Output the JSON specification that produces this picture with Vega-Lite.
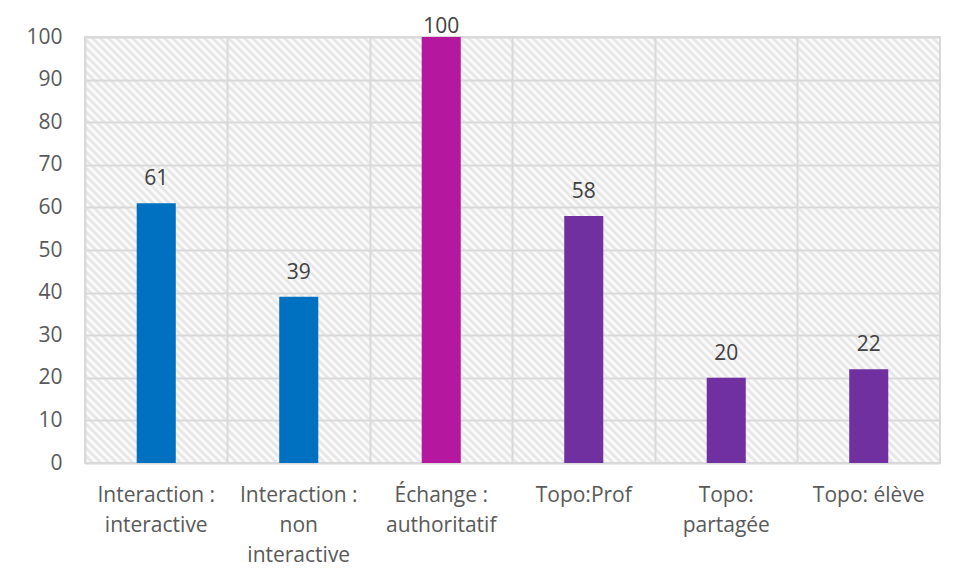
{
"$schema": "https://vega.github.io/schema/vega-lite/v6.json",
"width": 855, "height": 426,
"autosize": "none",
"padding": {"left": 85, "top": 37, "right": 18, "bottom": 115},
"background": "white",
"config": {
"view": {"stroke": "#d9d9d9", "strokeWidth": 2,
"fill": {"gradient": "linear", "x1": 0, "y1": 1, "x2": 1.5, "y2": 0.2527, "stops": [
{"offset":0,"color":"#e2e2e2"},{"offset":0.0025,"color":"#fff"},{"offset":0.005,"color":"#e2e2e2"},{"offset":0.0075,"color":"#fff"},
{"offset":0.01,"color":"#e2e2e2"},{"offset":0.0125,"color":"#fff"},{"offset":0.015,"color":"#e2e2e2"},{"offset":0.0175,"color":"#fff"},
{"offset":0.02,"color":"#e2e2e2"},{"offset":0.0225,"color":"#fff"},{"offset":0.025,"color":"#e2e2e2"},{"offset":0.0275,"color":"#fff"},
{"offset":0.03,"color":"#e2e2e2"},{"offset":0.0325,"color":"#fff"},{"offset":0.035,"color":"#e2e2e2"},{"offset":0.0375,"color":"#fff"},
{"offset":0.04,"color":"#e2e2e2"},{"offset":0.0425,"color":"#fff"},{"offset":0.045,"color":"#e2e2e2"},{"offset":0.0475,"color":"#fff"},
{"offset":0.05,"color":"#e2e2e2"},{"offset":0.0525,"color":"#fff"},{"offset":0.055,"color":"#e2e2e2"},{"offset":0.0575,"color":"#fff"},
{"offset":0.06,"color":"#e2e2e2"},{"offset":0.0625,"color":"#fff"},{"offset":0.065,"color":"#e2e2e2"},{"offset":0.0675,"color":"#fff"},
{"offset":0.07,"color":"#e2e2e2"},{"offset":0.0725,"color":"#fff"},{"offset":0.075,"color":"#e2e2e2"},{"offset":0.0775,"color":"#fff"},
{"offset":0.08,"color":"#e2e2e2"},{"offset":0.0825,"color":"#fff"},{"offset":0.085,"color":"#e2e2e2"},{"offset":0.0875,"color":"#fff"},
{"offset":0.09,"color":"#e2e2e2"},{"offset":0.0925,"color":"#fff"},{"offset":0.095,"color":"#e2e2e2"},{"offset":0.0975,"color":"#fff"},
{"offset":0.10,"color":"#e2e2e2"},{"offset":0.1025,"color":"#fff"},{"offset":0.105,"color":"#e2e2e2"},{"offset":0.1075,"color":"#fff"},
{"offset":0.11,"color":"#e2e2e2"},{"offset":0.1125,"color":"#fff"},{"offset":0.115,"color":"#e2e2e2"},{"offset":0.1175,"color":"#fff"},
{"offset":0.12,"color":"#e2e2e2"},{"offset":0.1225,"color":"#fff"},{"offset":0.125,"color":"#e2e2e2"},{"offset":0.1275,"color":"#fff"},
{"offset":0.13,"color":"#e2e2e2"},{"offset":0.1325,"color":"#fff"},{"offset":0.135,"color":"#e2e2e2"},{"offset":0.1375,"color":"#fff"},
{"offset":0.14,"color":"#e2e2e2"},{"offset":0.1425,"color":"#fff"},{"offset":0.145,"color":"#e2e2e2"},{"offset":0.1475,"color":"#fff"},
{"offset":0.15,"color":"#e2e2e2"},{"offset":0.1525,"color":"#fff"},{"offset":0.155,"color":"#e2e2e2"},{"offset":0.1575,"color":"#fff"},
{"offset":0.16,"color":"#e2e2e2"},{"offset":0.1625,"color":"#fff"},{"offset":0.165,"color":"#e2e2e2"},{"offset":0.1675,"color":"#fff"},
{"offset":0.17,"color":"#e2e2e2"},{"offset":0.1725,"color":"#fff"},{"offset":0.175,"color":"#e2e2e2"},{"offset":0.1775,"color":"#fff"},
{"offset":0.18,"color":"#e2e2e2"},{"offset":0.1825,"color":"#fff"},{"offset":0.185,"color":"#e2e2e2"},{"offset":0.1875,"color":"#fff"},
{"offset":0.19,"color":"#e2e2e2"},{"offset":0.1925,"color":"#fff"},{"offset":0.195,"color":"#e2e2e2"},{"offset":0.1975,"color":"#fff"},
{"offset":0.20,"color":"#e2e2e2"},{"offset":0.2025,"color":"#fff"},{"offset":0.205,"color":"#e2e2e2"},{"offset":0.2075,"color":"#fff"},
{"offset":0.21,"color":"#e2e2e2"},{"offset":0.2125,"color":"#fff"},{"offset":0.215,"color":"#e2e2e2"},{"offset":0.2175,"color":"#fff"},
{"offset":0.22,"color":"#e2e2e2"},{"offset":0.2225,"color":"#fff"},{"offset":0.225,"color":"#e2e2e2"},{"offset":0.2275,"color":"#fff"},
{"offset":0.23,"color":"#e2e2e2"},{"offset":0.2325,"color":"#fff"},{"offset":0.235,"color":"#e2e2e2"},{"offset":0.2375,"color":"#fff"},
{"offset":0.24,"color":"#e2e2e2"},{"offset":0.2425,"color":"#fff"},{"offset":0.245,"color":"#e2e2e2"},{"offset":0.2475,"color":"#fff"},
{"offset":0.25,"color":"#e2e2e2"},{"offset":0.2525,"color":"#fff"},{"offset":0.255,"color":"#e2e2e2"},{"offset":0.2575,"color":"#fff"},
{"offset":0.26,"color":"#e2e2e2"},{"offset":0.2625,"color":"#fff"},{"offset":0.265,"color":"#e2e2e2"},{"offset":0.2675,"color":"#fff"},
{"offset":0.27,"color":"#e2e2e2"},{"offset":0.2725,"color":"#fff"},{"offset":0.275,"color":"#e2e2e2"},{"offset":0.2775,"color":"#fff"},
{"offset":0.28,"color":"#e2e2e2"},{"offset":0.2825,"color":"#fff"},{"offset":0.285,"color":"#e2e2e2"},{"offset":0.2875,"color":"#fff"},
{"offset":0.29,"color":"#e2e2e2"},{"offset":0.2925,"color":"#fff"},{"offset":0.295,"color":"#e2e2e2"},{"offset":0.2975,"color":"#fff"},
{"offset":0.30,"color":"#e2e2e2"},{"offset":0.3025,"color":"#fff"},{"offset":0.305,"color":"#e2e2e2"},{"offset":0.3075,"color":"#fff"},
{"offset":0.31,"color":"#e2e2e2"},{"offset":0.3125,"color":"#fff"},{"offset":0.315,"color":"#e2e2e2"},{"offset":0.3175,"color":"#fff"},
{"offset":0.32,"color":"#e2e2e2"},{"offset":0.3225,"color":"#fff"},{"offset":0.325,"color":"#e2e2e2"},{"offset":0.3275,"color":"#fff"},
{"offset":0.33,"color":"#e2e2e2"},{"offset":0.3325,"color":"#fff"},{"offset":0.335,"color":"#e2e2e2"},{"offset":0.3375,"color":"#fff"},
{"offset":0.34,"color":"#e2e2e2"},{"offset":0.3425,"color":"#fff"},{"offset":0.345,"color":"#e2e2e2"},{"offset":0.3475,"color":"#fff"},
{"offset":0.35,"color":"#e2e2e2"},{"offset":0.3525,"color":"#fff"},{"offset":0.355,"color":"#e2e2e2"},{"offset":0.3575,"color":"#fff"},
{"offset":0.36,"color":"#e2e2e2"},{"offset":0.3625,"color":"#fff"},{"offset":0.365,"color":"#e2e2e2"},{"offset":0.3675,"color":"#fff"},
{"offset":0.37,"color":"#e2e2e2"},{"offset":0.3725,"color":"#fff"},{"offset":0.375,"color":"#e2e2e2"},{"offset":0.3775,"color":"#fff"},
{"offset":0.38,"color":"#e2e2e2"},{"offset":0.3825,"color":"#fff"},{"offset":0.385,"color":"#e2e2e2"},{"offset":0.3875,"color":"#fff"},
{"offset":0.39,"color":"#e2e2e2"},{"offset":0.3925,"color":"#fff"},{"offset":0.395,"color":"#e2e2e2"},{"offset":0.3975,"color":"#fff"},
{"offset":0.40,"color":"#e2e2e2"},{"offset":0.4025,"color":"#fff"},{"offset":0.405,"color":"#e2e2e2"},{"offset":0.4075,"color":"#fff"},
{"offset":0.41,"color":"#e2e2e2"},{"offset":0.4125,"color":"#fff"},{"offset":0.415,"color":"#e2e2e2"},{"offset":0.4175,"color":"#fff"},
{"offset":0.42,"color":"#e2e2e2"},{"offset":0.4225,"color":"#fff"},{"offset":0.425,"color":"#e2e2e2"},{"offset":0.4275,"color":"#fff"},
{"offset":0.43,"color":"#e2e2e2"},{"offset":0.4325,"color":"#fff"},{"offset":0.435,"color":"#e2e2e2"},{"offset":0.4375,"color":"#fff"},
{"offset":0.44,"color":"#e2e2e2"},{"offset":0.4425,"color":"#fff"},{"offset":0.445,"color":"#e2e2e2"},{"offset":0.4475,"color":"#fff"},
{"offset":0.45,"color":"#e2e2e2"},{"offset":0.4525,"color":"#fff"},{"offset":0.455,"color":"#e2e2e2"},{"offset":0.4575,"color":"#fff"},
{"offset":0.46,"color":"#e2e2e2"},{"offset":0.4625,"color":"#fff"},{"offset":0.465,"color":"#e2e2e2"},{"offset":0.4675,"color":"#fff"},
{"offset":0.47,"color":"#e2e2e2"},{"offset":0.4725,"color":"#fff"},{"offset":0.475,"color":"#e2e2e2"},{"offset":0.4775,"color":"#fff"},
{"offset":0.48,"color":"#e2e2e2"},{"offset":0.4825,"color":"#fff"},{"offset":0.485,"color":"#e2e2e2"},{"offset":0.4875,"color":"#fff"},
{"offset":0.49,"color":"#e2e2e2"},{"offset":0.4925,"color":"#fff"},{"offset":0.495,"color":"#e2e2e2"},{"offset":0.4975,"color":"#fff"},
{"offset":0.50,"color":"#e2e2e2"},{"offset":0.5025,"color":"#fff"},{"offset":0.505,"color":"#e2e2e2"},{"offset":0.5075,"color":"#fff"},
{"offset":0.51,"color":"#e2e2e2"},{"offset":0.5125,"color":"#fff"},{"offset":0.515,"color":"#e2e2e2"},{"offset":0.5175,"color":"#fff"},
{"offset":0.52,"color":"#e2e2e2"},{"offset":0.5225,"color":"#fff"},{"offset":0.525,"color":"#e2e2e2"},{"offset":0.5275,"color":"#fff"},
{"offset":0.53,"color":"#e2e2e2"},{"offset":0.5325,"color":"#fff"},{"offset":0.535,"color":"#e2e2e2"},{"offset":0.5375,"color":"#fff"},
{"offset":0.54,"color":"#e2e2e2"},{"offset":0.5425,"color":"#fff"},{"offset":0.545,"color":"#e2e2e2"},{"offset":0.5475,"color":"#fff"},
{"offset":0.55,"color":"#e2e2e2"},{"offset":0.5525,"color":"#fff"},{"offset":0.555,"color":"#e2e2e2"},{"offset":0.5575,"color":"#fff"},
{"offset":0.56,"color":"#e2e2e2"},{"offset":0.5625,"color":"#fff"},{"offset":0.565,"color":"#e2e2e2"},{"offset":0.5675,"color":"#fff"},
{"offset":0.57,"color":"#e2e2e2"},{"offset":0.5725,"color":"#fff"},{"offset":0.575,"color":"#e2e2e2"},{"offset":0.5775,"color":"#fff"},
{"offset":0.58,"color":"#e2e2e2"},{"offset":0.5825,"color":"#fff"},{"offset":0.585,"color":"#e2e2e2"},{"offset":0.5875,"color":"#fff"},
{"offset":0.59,"color":"#e2e2e2"},{"offset":0.5925,"color":"#fff"},{"offset":0.595,"color":"#e2e2e2"},{"offset":0.5975,"color":"#fff"},
{"offset":0.60,"color":"#e2e2e2"},{"offset":0.6025,"color":"#fff"},{"offset":0.605,"color":"#e2e2e2"},{"offset":0.6075,"color":"#fff"},
{"offset":0.61,"color":"#e2e2e2"},{"offset":0.6125,"color":"#fff"},{"offset":0.615,"color":"#e2e2e2"},{"offset":0.6175,"color":"#fff"},
{"offset":0.62,"color":"#e2e2e2"},{"offset":0.6225,"color":"#fff"},{"offset":0.625,"color":"#e2e2e2"},{"offset":0.6275,"color":"#fff"},
{"offset":0.63,"color":"#e2e2e2"},{"offset":0.6325,"color":"#fff"},{"offset":0.635,"color":"#e2e2e2"},{"offset":0.6375,"color":"#fff"},
{"offset":0.64,"color":"#e2e2e2"},{"offset":0.6425,"color":"#fff"},{"offset":0.645,"color":"#e2e2e2"},{"offset":0.6475,"color":"#fff"},
{"offset":0.65,"color":"#e2e2e2"},{"offset":0.6525,"color":"#fff"},{"offset":0.655,"color":"#e2e2e2"},{"offset":0.6575,"color":"#fff"},
{"offset":0.66,"color":"#e2e2e2"},{"offset":0.6625,"color":"#fff"},{"offset":0.665,"color":"#e2e2e2"},{"offset":0.6675,"color":"#fff"},
{"offset":0.67,"color":"#e2e2e2"},{"offset":0.6725,"color":"#fff"},{"offset":0.675,"color":"#e2e2e2"},{"offset":0.6775,"color":"#fff"},
{"offset":0.68,"color":"#e2e2e2"},{"offset":0.6825,"color":"#fff"},{"offset":0.685,"color":"#e2e2e2"},{"offset":0.6875,"color":"#fff"},
{"offset":0.69,"color":"#e2e2e2"},{"offset":0.6925,"color":"#fff"},{"offset":0.695,"color":"#e2e2e2"},{"offset":0.6975,"color":"#fff"},
{"offset":0.70,"color":"#e2e2e2"},{"offset":0.7025,"color":"#fff"},{"offset":0.705,"color":"#e2e2e2"},{"offset":0.7075,"color":"#fff"},
{"offset":0.71,"color":"#e2e2e2"},{"offset":0.7125,"color":"#fff"},{"offset":0.715,"color":"#e2e2e2"},{"offset":0.7175,"color":"#fff"},
{"offset":0.72,"color":"#e2e2e2"},{"offset":0.7225,"color":"#fff"},{"offset":0.725,"color":"#e2e2e2"},{"offset":0.7275,"color":"#fff"},
{"offset":0.73,"color":"#e2e2e2"},{"offset":0.7325,"color":"#fff"},{"offset":0.735,"color":"#e2e2e2"},{"offset":0.7375,"color":"#fff"},
{"offset":0.74,"color":"#e2e2e2"},{"offset":0.7425,"color":"#fff"},{"offset":0.745,"color":"#e2e2e2"},{"offset":0.7475,"color":"#fff"},
{"offset":0.75,"color":"#e2e2e2"},{"offset":0.7525,"color":"#fff"},{"offset":0.755,"color":"#e2e2e2"},{"offset":0.7575,"color":"#fff"},
{"offset":0.76,"color":"#e2e2e2"},{"offset":0.7625,"color":"#fff"},{"offset":0.765,"color":"#e2e2e2"},{"offset":0.7675,"color":"#fff"},
{"offset":0.77,"color":"#e2e2e2"},{"offset":0.7725,"color":"#fff"},{"offset":0.775,"color":"#e2e2e2"},{"offset":0.7775,"color":"#fff"},
{"offset":0.78,"color":"#e2e2e2"},{"offset":0.7825,"color":"#fff"},{"offset":0.785,"color":"#e2e2e2"},{"offset":0.7875,"color":"#fff"},
{"offset":0.79,"color":"#e2e2e2"},{"offset":0.7925,"color":"#fff"},{"offset":0.795,"color":"#e2e2e2"},{"offset":0.7975,"color":"#fff"},
{"offset":0.8,"color":"#e2e2e2"}
]}}
},
"data": {"values": [
{"cat": "Interaction : interactive", "value": 61, "grp": "Interaction"},
{"cat": "Interaction : non interactive", "value": 39, "grp": "Interaction"},
{"cat": "Échange : authoritatif", "value": 100, "grp": "Échange"},
{"cat": "Topo:Prof", "value": 58, "grp": "Topo"},
{"cat": "Topo: partagée", "value": 20, "grp": "Topo"},
{"cat": "Topo: élève", "value": 22, "grp": "Topo"}
]},
"encoding": {
"x": {"field": "cat", "type": "nominal", "sort": null,
 "scale": {"paddingInner": 0, "paddingOuter": 0},
 "axis": {"title": null, "labelAngle": 0, "bandPosition": 0, "grid": true, "gridColor": "#d9d9d9", "gridWidth": 2,
  "domain": false, "ticks": false, "tickSize": 0, "labelPadding": 21, "labelBaseline": "top", "labelLineHeight": 30,
  "labelFont": "Open Sans", "labelFontSize": 21, "labelColor": "#595959", "labelLimit": 0,
  "labelExpr": "datum.label == 'Interaction : interactive' ? ['Interaction :', 'interactive'] : datum.label == 'Interaction : non interactive' ? ['Interaction :', 'non', 'interactive'] : datum.label == 'Échange : authoritatif' ? ['Échange :', 'authoritatif'] : datum.label == 'Topo: partagée' ? ['Topo:', 'partagée'] : datum.label"}},
"y": {"field": "value", "type": "quantitative", "scale": {"domain": [0, 100]},
 "axis": {"title": null, "values": [0,10,20,30,40,50,60,70,80,90,100], "grid": true, "gridColor": "#d9d9d9", "gridWidth": 2,
  "domain": false, "ticks": false, "tickSize": 0, "labelPadding": 23, "labelFont": "Open Sans", "labelFontSize": 21, "labelColor": "#595959"}}
},
"layer": [
{"mark": {"type": "bar", "width": {"band": 0.274}},
 "encoding": {"color": {"field": "grp", "type": "nominal", "legend": null,
  "scale": {"domain": ["Interaction", "Échange", "Topo"], "range": ["#0070C0", "#B5179E", "#7030A0"]}}}},
{"transform": [{"filter": "datum.value < 100"}],
 "mark": {"type": "text", "baseline": "middle", "dy": -24, "font": "Open Sans", "fontSize": 21, "color": "#404040"},
 "encoding": {"text": {"field": "value", "type": "quantitative"}}},
{"transform": [{"filter": "datum.value >= 100"}],
 "mark": {"type": "text", "baseline": "middle", "dy": -10, "font": "Open Sans", "fontSize": 21, "color": "#404040"},
 "encoding": {"text": {"field": "value", "type": "quantitative"}}}
]
}
